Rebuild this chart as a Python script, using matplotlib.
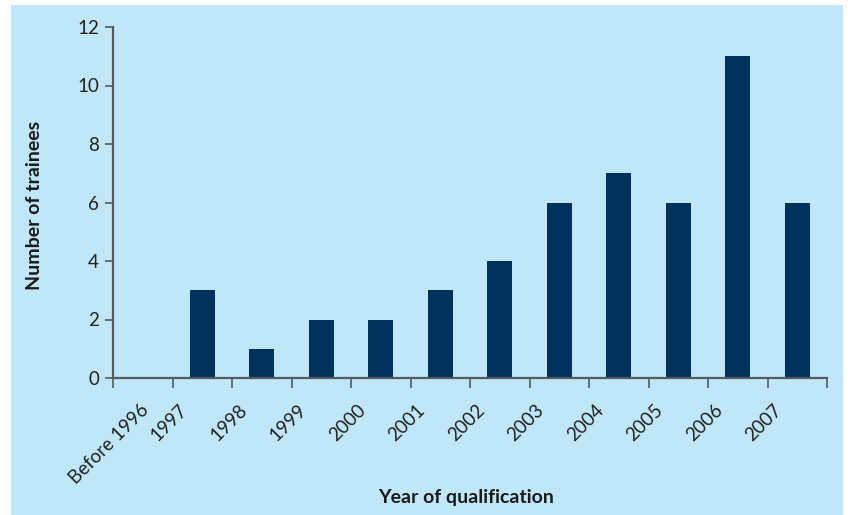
import numpy as np
import matplotlib.pyplot as plt
from matplotlib.patches import Rectangle

years = ['Before 1996', '1997', '1998', '1999', '2000', '2001', '2002',
         '2003', '2004', '2005', '2006', '2007']
trainees = [0, 3, 1, 2, 2, 3, 4, 6, 7, 6, 11, 6]

bg = '#bfe7f8'
navy = '#00335c'
axis_col = '#555a60'

plt.rcParams['font.family'] = ['Lato', 'DejaVu Sans']

W, H = 848, 515
fig = plt.figure(figsize=(W / 100, H / 100), dpi=100, facecolor='white')
# light blue panel behind everything, white strip on top/left/right
fig.add_artist(Rectangle((11 / W, 0), (843 - 11) / W, (515 - 5) / H,
                         transform=fig.transFigure, facecolor=bg,
                         edgecolor='none', zorder=-10))

ax = fig.add_axes([113 / W, 1 - 378 / H, (827 - 113) / W, (378 - 27) / H])
ax.set_facecolor('none')

x = np.arange(len(years))
ax.bar(x, trainees, width=0.42, color=navy, zorder=2)

ax.set_xlim(-0.5, len(years) - 0.5)
ax.set_ylim(0, 12)
ax.set_yticks(range(0, 13, 2))
ax.tick_params(axis='y', direction='out', length=6, width=1.2,
               color=axis_col, labelsize=13.5, labelcolor='#222222', pad=4)

# tick marks at category boundaries, labels slightly left of the bar centres
# (the first one nudged right so it stays inside the panel)
label_pos = x - 0.3
label_pos[0] += 0.35
ax.set_xticks(np.arange(len(years) + 1) - 0.5, minor=True)
ax.set_xticks(label_pos)
ax.set_xticklabels(years, rotation=45, ha='right', va='center',
                   rotation_mode='anchor')
ax.tick_params(axis='x', which='minor', direction='out', length=7,
               width=1.2, color=axis_col)
ax.tick_params(axis='x', which='major', length=0, pad=21, labelsize=13.5,
               labelcolor='#222222')

for side in ('top', 'right'):
    ax.spines[side].set_visible(False)
ax.spines['left'].set_color(axis_col)
ax.spines['left'].set_linewidth(1.6)
ax.spines['bottom'].set_color(axis_col)
ax.spines['bottom'].set_linewidth(1.6)

fig.text(35 / W, 1 - 205 / H, 'Number of trainees', rotation=90,
         ha='center', va='center', fontsize=14, fontweight='bold',
         color='#1a1a1a')
fig.text(466 / W, 1 - 497 / H, 'Year of qualification', ha='center',
         va='center', fontsize=14, fontweight='bold', color='#1a1a1a')

fig.savefig('out.png', dpi=100, facecolor='white')
